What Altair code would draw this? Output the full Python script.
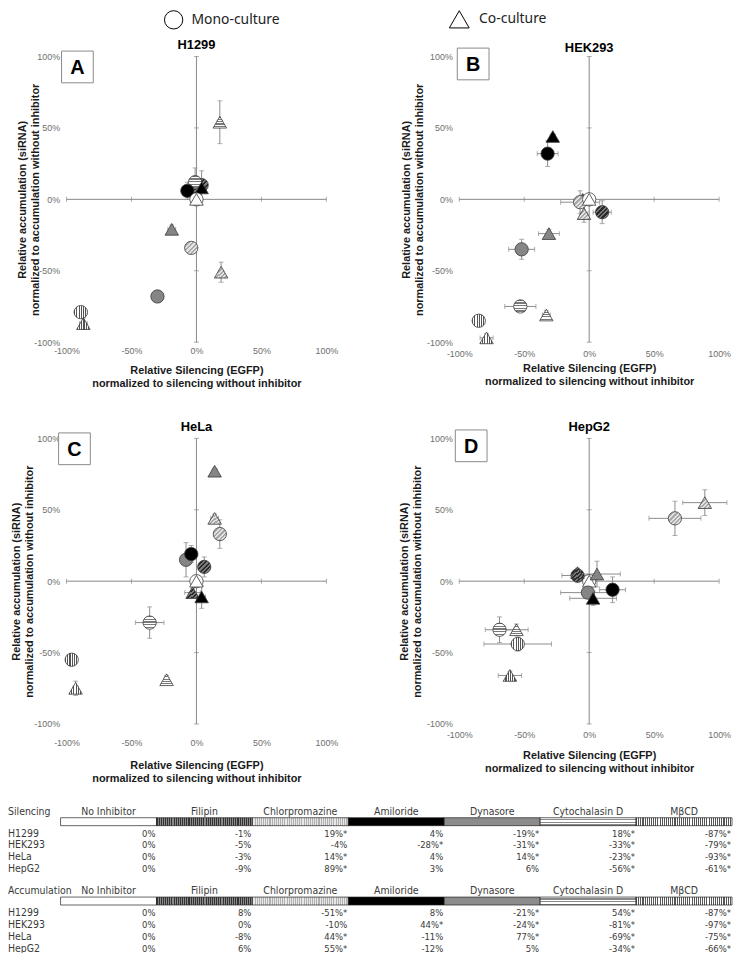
import altair as alt
import pandas as pd

# ---------------- data ----------------
INHIB = ["No Inhibitor", "Filipin", "Chlorpromazine", "Amiloride", "Dynasore", "Cytochalasin D", "MβCD"]
CELLS = ["H1299", "HEK293", "HeLa", "HepG2"]
LETTERS = ["A", "B", "C", "D"]
LEGEND_LABELS = ["Mono-culture", "Co-culture"]
SECTIONS = ["Silencing", "Accumulation"]

# table values (co-culture, triangles)
SIL_TXT = {
    "H1299":  ["0%", "-1%", "19%*", "4%", "-19%*", "18%*", "-87%*"],
    "HEK293": ["0%", "-5%", "-4%", "-28%*", "-31%*", "-33%*", "-79%*"],
    "HeLa":   ["0%", "-3%", "14%*", "4%", "14%*", "-23%*", "-93%*"],
    "HepG2":  ["0%", "-9%", "89%*", "3%", "6%", "-56%*", "-61%*"],
}
ACC_TXT = {
    "H1299":  ["0%", "8%", "-51%*", "8%", "-21%*", "54%*", "-87%*"],
    "HEK293": ["0%", "0%", "-10%", "44%*", "-24%*", "-81%*", "-97%*"],
    "HeLa":   ["0%", "-8%", "44%*", "-11%", "77%*", "-69%*", "-75%*"],
    "HepG2":  ["0%", "6%", "55%*", "-12%", "5%", "-34%*", "-66%*"],
}

# mono-culture (circles)
MONO_X = {
    "H1299":  [0, 4, -4, -7, -30, -1, -89],
    "HEK293": [0, 10, -7, -32, -52, -53, -85],
    "HeLa":   [0, 6, 18, -4, -8, -36, -96],
    "HepG2":  [0, -9, 66, 18, -1, -69, -55],
}
MONO_Y = {
    "H1299":  [0, 10, -34, 6, -68, 12, -79],
    "HEK293": [0, -9, -2, 32, -35, -75, -85],
    "HeLa":   [0, 10, 33, 19, 15, -29, -55],
    "HepG2":  [0, 4, 44, -6, -8, -34, -44],
}
MONO_XERR = {
    "H1299":  [0, 2, 2, 3, 4, 3, 5],
    "HEK293": [0, 7, 15, 8, 10, 12, 4],
    "HeLa":   [0, 3, 3, 5, 3, 11, 2],
    "HepG2":  [0, 12, 20, 10, 21, 11, 26],
}
MONO_YERR = {
    "H1299":  [0, 10, 3, 6, 2, 10, 3],
    "HEK293": [0, 8, 8, 9, 7, 3, 2],
    "HeLa":   [0, 7, 10, 6, 12, 11, 2],
    "HepG2":  [0, 5, 12, 9, 4, 9, 5],
}
CO_XERR = {
    "H1299":  [0, 2, 2, 2, 3, 2, 3],
    "HEK293": [0, 3, 3, 2, 8, 3, 5],
    "HeLa":   [0, 6, 3, 3, 2, 2, 2],
    "HepG2":  [0, 3, 17, 18, 18, 9, 9],
}
CO_YERR = {
    "H1299":  [0, 4, 7, 3, 3, 15, 4],
    "HEK293": [0, 3, 6, 2, 3, 3, 3],
    "HeLa":   [0, 3, 3, 8, 2, 3, 5],
    "HepG2":  [0, 3, 9, 5, 9, 4, 3],
}


def num(s):
    return float(s.replace("%", "").replace("*", ""))


# ---------------- styles ----------------
FONT = "Liberation Sans"
NARROW = "Liberation Sans Narrow, DejaVu Sans Condensed, Arial Narrow, sans-serif"
AXC = "#878787"
ERRC = "#8c8c8c"
W, H = 262, 288
COLSP, ROWSP = 134, 97
LEFT = 67                      # page x of the left panels' plot area


def stripes(c1, c2, n, direction):
    stops = []
    for k in range(n):
        a, b, c = k / n, (k + 0.5) / n, (k + 1) / n
        stops += [alt.GradientStop(color=c1, offset=a), alt.GradientStop(color=c1, offset=b),
                  alt.GradientStop(color=c2, offset=b), alt.GradientStop(color=c2, offset=c)]
    if direction == "v":      # vertical stripes
        return alt.LinearGradient(gradient="linear", stops=stops, x1=0, y1=0, x2=1, y2=0)
    if direction == "h":      # horizontal stripes
        return alt.LinearGradient(gradient="linear", stops=stops, x1=0, y1=0, x2=0, y2=1)
    return alt.LinearGradient(gradient="linear", stops=stops, x1=0, y1=0, x2=1, y2=1)


POINT_FILL = {
    "No Inhibitor": "white",
    "Filipin": stripes("#2a2a2a", "#7a7a7a", 6, "d"),
    "Chlorpromazine": stripes("#a8a8a8", "#e4e4e4", 6, "d"),
    "Amiloride": "black",
    "Dynasore": "#858585",
    "Cytochalasin D": stripes("#7a7a7a", "#ffffff", 5, "h"),
    "MβCD": stripes("#555555", "#ffffff", 6, "v"),
}
BAR_FILL = {
    "No Inhibitor": "white",
    "Filipin": stripes("#333333", "#8a8a8a", 45, "v"),
    "Chlorpromazine": stripes("#b0b0b0", "#e8e8e8", 45, "v"),
    "Amiloride": "black",
    "Dynasore": "#8c8c8c",
    "Cytochalasin D": stripes("#ffffff", "#8a8a8a", 3, "h"),
    "MβCD": stripes("#555555", "#ffffff", 45, "v"),
}

one = alt.Chart(pd.DataFrame({"k": [0]}))


def legend_item(label_i, shape, sx, sy, size, gap):
    return [
        one.mark_point(shape=shape, filled=True, fill="white", stroke="black", strokeWidth=1,
                       size=size, opacity=1).encode(x=alt.value(sx), y=alt.value(sy)),
        one.mark_text(align="left", baseline="middle", font="Noto Sans", fontSize=14, color="#222").encode(
            x=alt.value(sx + gap), y=alt.value(sy), text=alt.value(LEGEND_LABELS[label_i])),
    ]


def panel(ci, box_dx, box_dy, xlab_pad, xtitle_pad, ytitle_pad, title_dy, white_top=True, extra=None):
    cell = CELLS[ci]
    co_x = [num(s) for s in SIL_TXT[cell]]
    co_y = [num(s) for s in ACC_TXT[cell]]
    rows = []
    for i, inh in enumerate(INHIB):
        for cult, xs, ys, xe, ye in [
            ("Mono", MONO_X[cell], MONO_Y[cell], MONO_XERR[cell], MONO_YERR[cell]),
            ("Co", co_x, co_y, CO_XERR[cell], CO_YERR[cell]),
        ]:
            rows.append(dict(inh=inh, cult=cult, x=xs[i], y=ys[i], xe=xe[i], ye=ye[i],
                             xlo=xs[i] - xe[i], xhi=xs[i] + xe[i],
                             ylo=ys[i] - ye[i], yhi=ys[i] + ye[i]))
    df = pd.DataFrame(rows)

    sx = alt.Scale(domain=[-100, 100], nice=False, zero=False)
    sy = alt.Scale(domain=[-100, 100], nice=False, zero=False)
    vals = [-100, -50, 0, 50, 100]
    axx = alt.Axis(values=vals, labelExpr="datum.value + '%'", domain=False, ticks=False, grid=False,
                   labelFont=FONT, labelFontSize=9, labelColor="#6e6e6e", labelPadding=xlab_pad,
                   labelFlush=False, labelOverlap=False,
                   title=["Relative Silencing (EGFP)", "normalized to silencing without inhibitor"],
                   titleFont=FONT, titleFontSize=11, titleFontWeight="bold", titleColor="#1a1a1a",
                   titlePadding=xtitle_pad, titleLineHeight=13)
    axy = alt.Axis(values=vals, labelExpr="datum.value + '%'", domain=False, ticks=False, grid=False,
                   labelFont=FONT, labelFontSize=9, labelColor="#6e6e6e", labelPadding=7,
                   labelFlush=False, labelOverlap=False,
                   title=["Relative accumulation  (siRNA)", "normalized to accumulation without inhibitor"],
                   titleFont=FONT, titleFontSize=11, titleFontWeight="bold", titleColor="#1a1a1a",
                   titlePadding=ytitle_pad, titleLineHeight=13)

    def X(f):
        return alt.X(f, type="quantitative", scale=sx, axis=axx)

    def Y(f):
        return alt.Y(f, type="quantitative", scale=sy, axis=axy)

    dax = pd.DataFrame({"a": [-100], "b": [100], "z": [0]})
    hline = alt.Chart(dax).mark_rule(color=AXC, strokeWidth=1).encode(x=X("a"), x2="b", y=Y("z"))
    vline = alt.Chart(dax).mark_rule(color=AXC, strokeWidth=1).encode(y=Y("a"), y2="b", x=X("z"))
    dt = pd.DataFrame({"t": [-100, -50, 50, 100], "z": [0, 0, 0, 0]})
    xt = alt.Chart(dt).mark_tick(orient="vertical", size=5, thickness=1, color=AXC).encode(x=X("t"), y=Y("z"))
    yt = alt.Chart(dt).mark_tick(orient="horizontal", size=5, thickness=1, color=AXC).encode(y=Y("t"), x=X("z"))

    base = alt.Chart(df)
    ex = base.transform_filter("datum.xe > 0").mark_rule(color=ERRC, strokeWidth=1).encode(
        x=X("xlo"), x2="xhi", y=Y("y"))
    ey = base.transform_filter("datum.ye > 0").mark_rule(color=ERRC, strokeWidth=1).encode(
        y=Y("ylo"), y2="yhi", x=X("x"))
    cx = base.transform_filter("datum.xe > 0").transform_fold(["xlo", "xhi"], as_=["k", "v"]).mark_tick(
        orient="vertical", size=5, thickness=1, color=ERRC).encode(x=X("v"), y=Y("y"))
    cy = base.transform_filter("datum.ye > 0").transform_fold(["ylo", "yhi"], as_=["k", "v"]).mark_tick(
        orient="horizontal", size=5, thickness=1, color=ERRC).encode(y=Y("v"), x=X("x"))

    order = ["Filipin", "Chlorpromazine", "Dynasore", "Cytochalasin D", "MβCD", "Amiloride"]
    order = order + ["No Inhibitor"] if white_top else ["No Inhibitor"] + order
    pts = []
    for inh in order:
        pts.append(base.transform_filter(alt.datum.inh == inh).mark_point(
            filled=True, fill=POINT_FILL[inh], stroke="#3a3a3a", strokeWidth=0.8, opacity=1).encode(
            x=X("x"), y=Y("y"),
            shape=alt.Shape("cult:N", scale=alt.Scale(domain=["Mono", "Co"], range=["circle", "triangle-up"]), legend=None),
            size=alt.Size("cult:N", scale=alt.Scale(domain=["Mono", "Co"], range=[180, 185]), legend=None),
        ))

    box = one.mark_rect(fill="white", stroke="#8a8a8a", strokeWidth=1).encode(
        x=alt.value(box_dx), x2=alt.value(box_dx + 32), y=alt.value(box_dy), y2=alt.value(box_dy + 32))
    let = one.mark_text(font=FONT, fontSize=20, fontWeight="bold", color="black").encode(
        x=alt.value(box_dx + 16), y=alt.value(box_dy + 17), text=alt.value(LETTERS[ci]))
    ttl = one.mark_text(font=FONT, fontSize=13, fontWeight="bold", color="black", baseline="middle").encode(
        x=alt.value(W / 2), y=alt.value(title_dy), text=alt.value(cell))

    layers = [hline, vline, xt, yt, ex, ey, cx, cy, *pts, box, let, ttl]
    if extra:
        layers += extra
    return alt.layer(*layers)


# ---------------- table (drawn below panel C, own scales) ----------------
SEG = (738 - 61) / 7.0        # width of one inhibitor column in px
TAB_X0 = 61 - LEFT            # table left edge relative to panel C plot left
TAB_Y0 = 803 - 438.5          # table top relative to panel C plot top
d0 = -TAB_X0 / SEG
tsx = alt.Scale(domain=[d0, d0 + W / SEG], nice=False, zero=False)
tsy = alt.Scale(domain=[-TAB_Y0, -TAB_Y0 + H], nice=False, zero=False, reverse=True)
SEC_OFF = [0, 80]

hdr_rows, bar_rows, val_rows, lab_rows = [], [], [], []
for s, sec in enumerate(SECTIONS):
    off = SEC_OFF[s]
    lab_rows.append(dict(t=sec, y=12 + off))
    txt = SIL_TXT if s == 0 else ACC_TXT
    for i, inh in enumerate(INHIB):
        hdr_rows.append(dict(t=inh, xc=i + 0.5, y=12 + off))
        bar_rows.append(dict(inh=inh, x0=i, x1=i + 1, y0=18 + off, y1=26 + off))
    for k, cell in enumerate(CELLS):
        lab_rows.append(dict(t=cell, y=34 + 12 * k + off))
        for i in range(7):
            val_rows.append(dict(t=txt[cell][i], xr=i + 1, y=34 + 12 * k + off))

TX = lambda f: alt.X(f, type="quantitative", scale=tsx, axis=None)
TY = lambda f: alt.Y(f, type="quantitative", scale=tsy, axis=None)
tcol = "#3a3a3a"
t_hdr = alt.Chart(pd.DataFrame(hdr_rows)).mark_text(font=NARROW, fontSize=10.5, color=tcol, baseline="middle").encode(
    x=TX("xc"), y=TY("y"), text="t:N")
t_lab = alt.Chart(pd.DataFrame(lab_rows)).mark_text(font=NARROW, fontSize=10.5, color=tcol, align="left",
                                                    baseline="middle").encode(
    x=alt.value(8 - LEFT), y=TY("y"), text="t:N")
t_val = alt.Chart(pd.DataFrame(val_rows)).mark_text(font=NARROW, fontSize=9.5, color=tcol, align="right",
                                                    baseline="middle", dx=-1).encode(
    x=TX("xr"), y=TY("y"), text="t:N")
bdf = pd.DataFrame(bar_rows)
t_bars = []
for inh in INHIB:
    t_bars.append(alt.Chart(bdf).transform_filter(alt.datum.inh == inh).mark_rect(
        fill=BAR_FILL[inh], stroke="#222", strokeWidth=0.7).encode(
        x=TX("x0"), x2="x1", y=TY("y0"), y2="y1"))
table = alt.layer(*t_bars, t_hdr, t_lab, t_val)

pA = panel(0, -5, -5.5, 4.5, 9, -7, -11.5, extra=legend_item(0, "circle", 108, -37, 340, 18))
pB = panel(1, -2, -8.5, 7.5, 4, 2, -8.5, extra=legend_item(1, "triangle-up", 0, -37.5, 400, 20))
pC = alt.layer(panel(2, -8, -5.5, 14.5, 12, -1, -11.5), table).resolve_scale(x="independent", y="independent")
pD = panel(3, -4, -8.5, 6.5, 10, 4, -11.5, white_top=False)

panels = [p.properties(width=W, height=H) for p in (pA, pB, pC, pD)]
chart = alt.concat(*panels, columns=2,
                   spacing=alt.RowColnumber(column=COLSP, row=ROWSP),
                   bounds="flush").properties(
    padding={"top": -4, "left": 0, "right": 0, "bottom": 0}).configure_view(stroke=None)

chart.save("out.html", embed_options={"renderer": "svg", "actions": False})
